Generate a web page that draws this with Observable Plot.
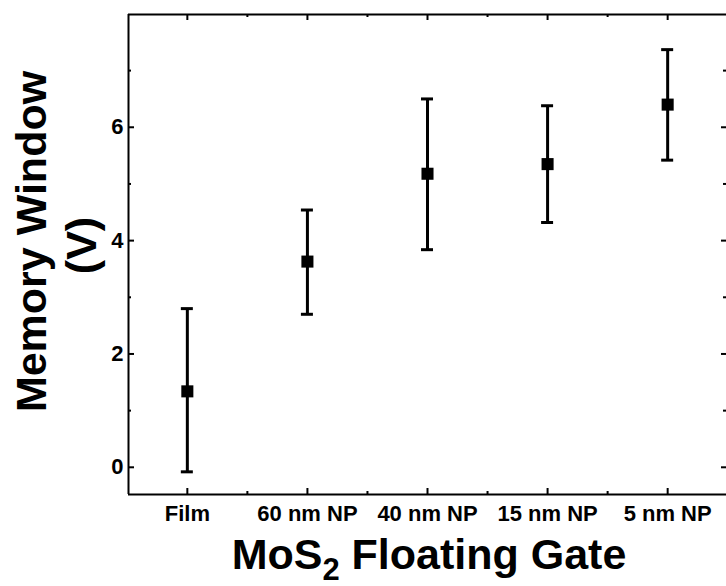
<!DOCTYPE html>
<html>
<head>
<meta charset="utf-8">
<script src="https://cdn.jsdelivr.net/npm/d3@7"></script>
<script src="https://cdn.jsdelivr.net/npm/@observablehq/plot@0.6"></script>
<style>
  html, body { margin: 0; padding: 0; background: #fff; }
  #wrap { position: relative; width: 726px; height: 586px; font-family: "Liberation Sans", Arial, sans-serif; }
  #title { position: absolute; left: 130px; width: 598px; top: 529px; text-align: center;
           font-weight: bold; font-size: 43px; line-height: 50px; color: #000; white-space: nowrap; }
  #title .sub { font-size: 0.72em; position: relative; top: 0.36em; }
</style>
</head>
<body>
<div id="wrap"><div id="chart"></div><div id="title">MoS<span class="sub">2</span> Floating Gate</div></div>
<script>
const categories = ["Film", "60 nm NP", "40 nm NP", "15 nm NP", "5 nm NP"];
const memoryWindow = [1.34, 3.63, 5.18, 5.35, 6.40];
const errLow = [-0.08, 2.70, 3.84, 4.32, 5.42];
const errHigh = [2.80, 4.54, 6.50, 6.38, 7.37];
const yMajorTicks = [0, 2, 4, 6];
const yMinorTicks = [1, 3, 5, 7];
const yLabel = "Memory Window";
const yUnit = "(V)";

const data = categories.map((c, i) => ({i, c, v: memoryWindow[i], lo: errLow[i], hi: errHigh[i]}));
const xIdx = categories.map((c, i) => i);
const xMinor = categories.slice(1).map((c, i) => i + 0.5);

const W = 726, H = 532, mL = 128, mR = 0, mT = 14, mB = 38;
const pw = W - mL - mR, ph = H - mT - mB;
const xDom = [-0.49, 4.49], yDom = [-0.48, 7.99];
const font = "Liberation Sans, Arial, sans-serif";
const capHalf = 0.05;

const chart = Plot.plot({
  width: W, height: H,
  marginLeft: mL, marginRight: mR, marginTop: mT, marginBottom: mB,
  style: {fontFamily: font, fontWeight: "bold", color: "#000", background: "#fff", overflow: "visible"},
  x: {domain: xDom, axis: null},
  y: {domain: yDom, axis: null},
  marks: [
    // frame
    Plot.ruleY([yDom[1]], {stroke: "#000", strokeWidth: 2}),
    Plot.ruleY([yDom[0]], {stroke: "#000", strokeWidth: 2}),
    Plot.ruleX([xDom[0]], {stroke: "#000", strokeWidth: 2}),
    // left inward ticks
    Plot.tickY(yMajorTicks, {y: d => d, insetRight: pw - 6, stroke: "#000", strokeWidth: 2}),
    Plot.tickY(yMinorTicks, {y: d => d, insetRight: pw - 3, stroke: "#000", strokeWidth: 2}),
    // right inward ticks
    Plot.tickY(yMajorTicks, {y: d => d, insetLeft: pw - 5, stroke: "#000", strokeWidth: 2}),
    Plot.tickY(yMinorTicks, {y: d => d, insetLeft: pw - 3, stroke: "#000", strokeWidth: 2}),
    // bottom inward ticks
    Plot.tickX(xIdx, {x: d => d, insetTop: ph - 6, stroke: "#000", strokeWidth: 2}),
    Plot.tickX(xMinor, {x: d => d, insetTop: ph - 3, stroke: "#000", strokeWidth: 2}),
    // top inward ticks
    Plot.tickX(xIdx, {x: d => d, insetBottom: ph - 6, stroke: "#000", strokeWidth: 2}),
    Plot.tickX(xMinor, {x: d => d, insetBottom: ph - 3, stroke: "#000", strokeWidth: 2}),
    // axes labels
    Plot.axisY({ticks: yMajorTicks, tickSize: 0, tickPadding: 5, fontSize: 22, fontWeight: "bold", label: null}),
    Plot.axisX({ticks: xIdx, tickFormat: i => categories[i], tickSize: 0, tickPadding: 11, fontSize: 22, fontWeight: "bold", label: null}),
    // error bars
    Plot.ruleX(data, {x: "i", y1: "lo", y2: "hi", stroke: "#000", strokeWidth: 3}),
    Plot.ruleY(data, {y: "lo", x1: d => d.i - capHalf, x2: d => d.i + capHalf, stroke: "#000", strokeWidth: 3}),
    Plot.ruleY(data, {y: "hi", x1: d => d.i - capHalf, x2: d => d.i + capHalf, stroke: "#000", strokeWidth: 3}),
    Plot.dot(data, {x: "i", y: "v", symbol: "square", r: 6.8, fill: "#000", stroke: null}),
    // y label
    Plot.text([yLabel], {text: d => d, frameAnchor: "left", textAnchor: "middle", rotate: -90, dx: -83, dy: -13, lineAnchor: "bottom", fontSize: 43, fontWeight: "bold"}),
    Plot.text([yUnit], {text: d => d, frameAnchor: "left", textAnchor: "middle", rotate: -90, dx: -33, dy: -9, lineAnchor: "bottom", fontSize: 43, fontWeight: "bold"})
  ]
});
document.getElementById("chart").appendChild(chart);
</script>
</body>
</html>
